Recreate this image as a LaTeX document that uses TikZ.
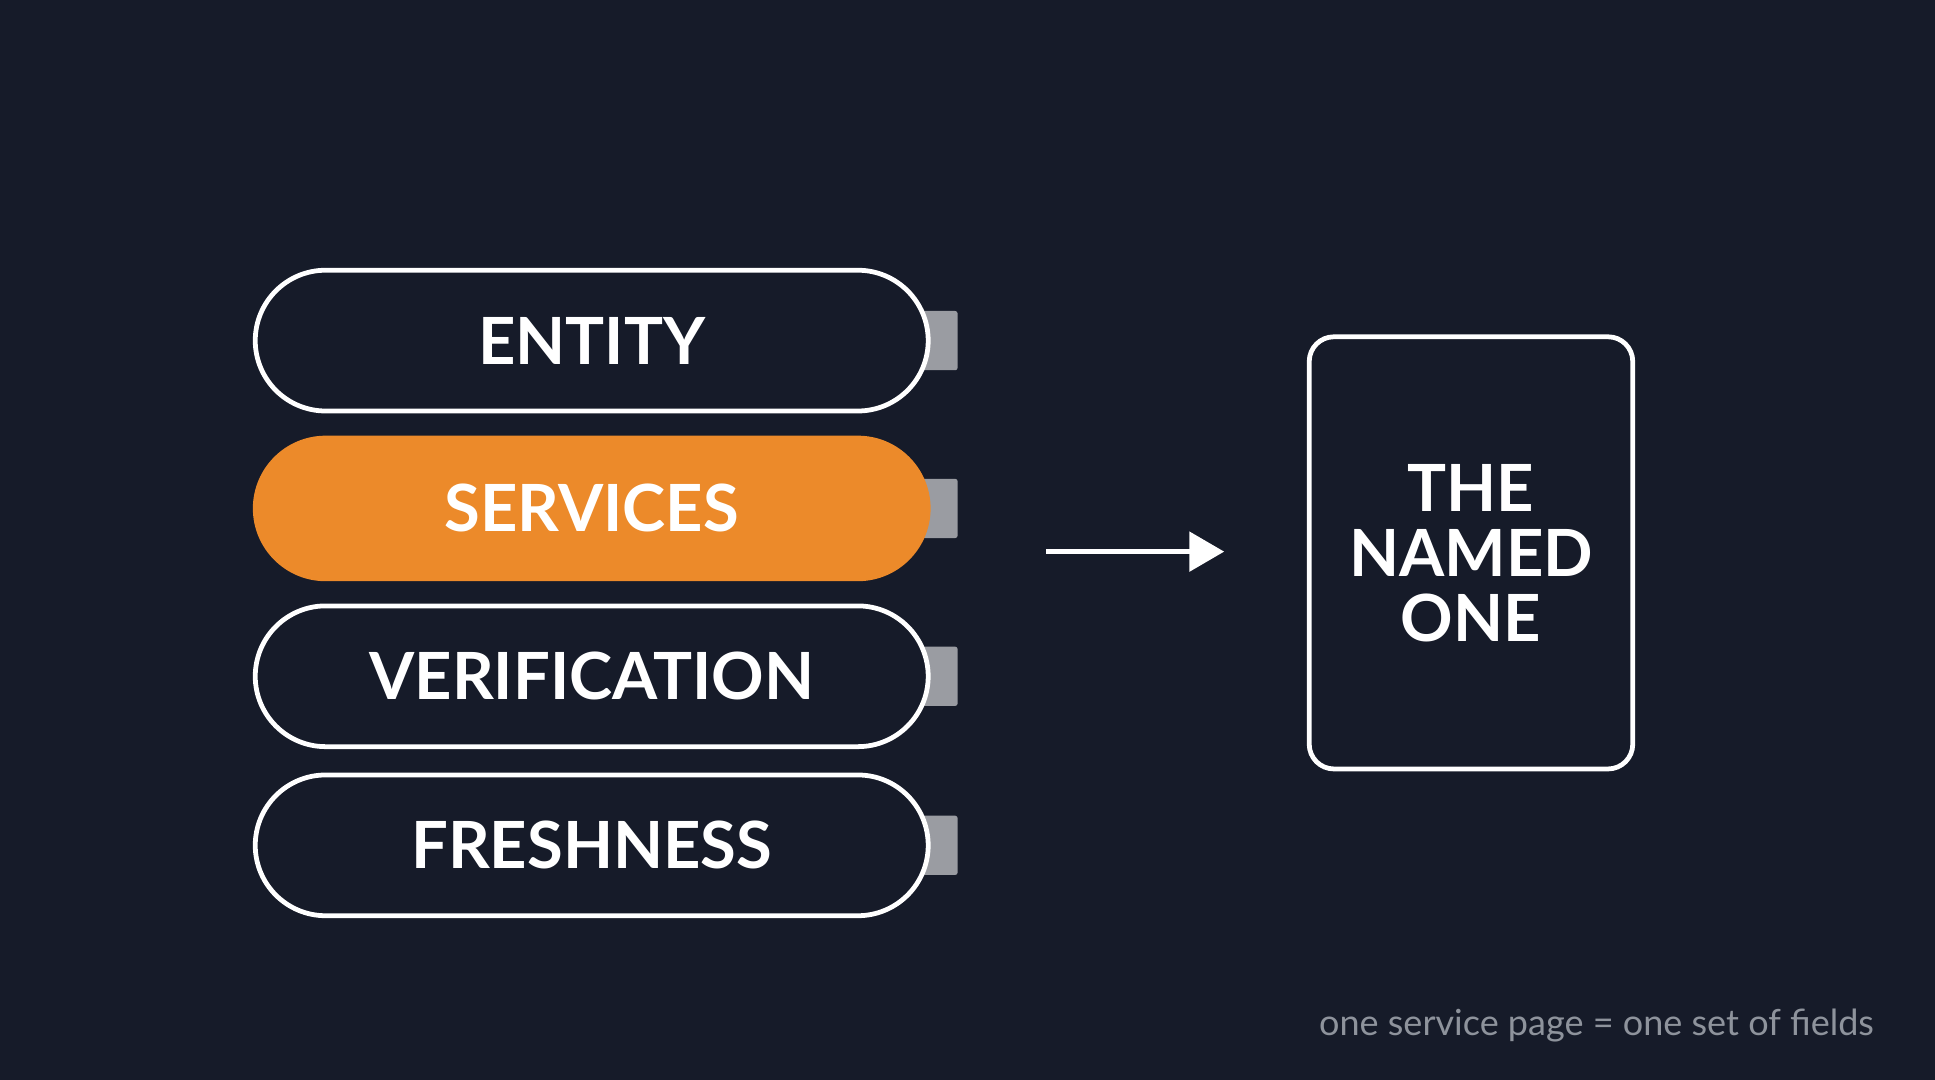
\documentclass[tikz,border=0pt]{standalone}
\usepackage{fontspec}
\setmainfont{Lato}
\usetikzlibrary{arrows.meta}
\definecolor{bg}{HTML}{161B29}
\definecolor{orng}{HTML}{EC8A2A}
\definecolor{tabc}{HTML}{9A9CA2}
\definecolor{foot}{HTML}{8E939C}
\begin{document}
\begin{tikzpicture}[x=0.01cm,y=-0.01cm,
  pill/.style={draw=white,line width=1.1pt,rounded corners=0.57cm,minimum width=5.45cm,minimum height=1.14cm,font=\fontsize{15}{18}\selectfont\bfseries,text=white},
  tab/.style={fill=tabc,rounded corners=0.02cm,minimum width=0.3cm,minimum height=0.48cm,inner sep=0}]
\fill[bg] (0,0) rectangle (1568,875);
\useasboundingbox (0,0) rectangle (1568,875);
\foreach \n/\y in {t1/276,t2/412,t3/548,t4/685}{\node[tab] (\n) at (761,\y) {};}
\node[pill,fill=bg] (e) at (479.5,276) {ENTITY};
\node[pill,fill=orng,draw=orng] (s) at (479.5,412) {SERVICES};
\node[pill,fill=bg] (v) at (479.5,548) {VERIFICATION};
\node[pill,fill=bg] (f) at (479.5,685) {FRESHNESS};
\node[draw=white,line width=1.1pt,rounded corners=0.2cm,minimum width=2.62cm,minimum height=3.5cm,align=center,font=\fontsize{15}{15}\selectfont\bfseries,text=white] (b) at (1192,448) {THE\\NAMED\\ONE};
\coordinate (a1) at (848,447);
\coordinate (a2) at (992,447);
\draw[white,line width=1.1pt,-{Triangle[width=9pt,length=8pt]}] (a1) -- (a2);
\node[anchor=east,text=foot,font=\fontsize{8.3}{10}\selectfont] (ft) at (1531,831) {one service page = one set of fields};
\end{tikzpicture}
\end{document}
